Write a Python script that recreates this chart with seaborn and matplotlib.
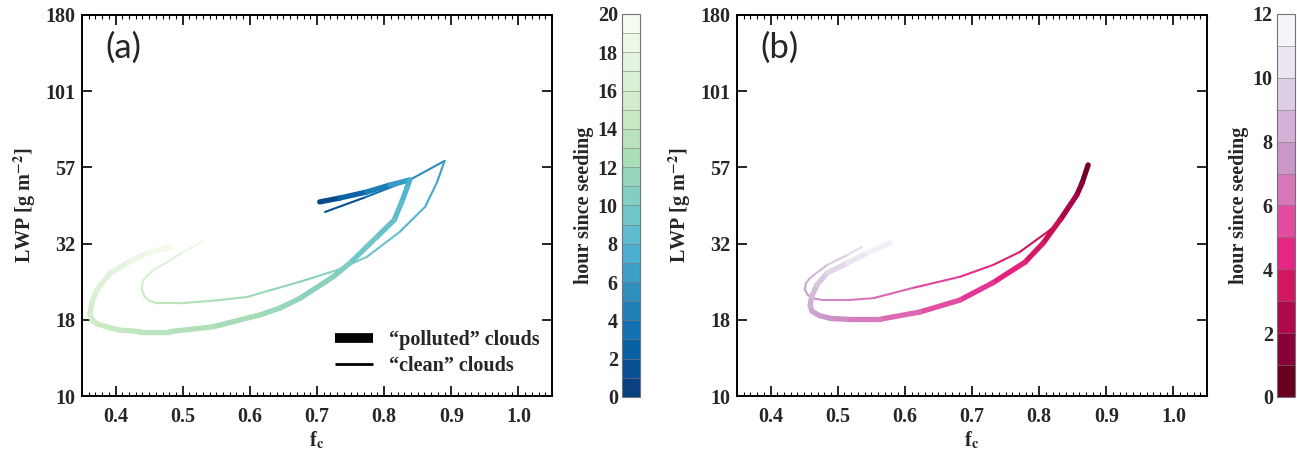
import numpy as np
import pandas as pd
import seaborn as sns
import matplotlib
matplotlib.use("Agg")
import matplotlib.pyplot as plt
from matplotlib.collections import LineCollection
from matplotlib.colors import Normalize, BoundaryNorm
from matplotlib.cm import ScalarMappable
from matplotlib.lines import Line2D
from matplotlib.ticker import FixedLocator, MultipleLocator, NullLocator

# ==========================================
# DATA
# ==========================================
# panel (a): "polluted" (thick) trajectory
A_POL_FC = [0.704, 0.734, 0.774, 0.809, 0.838, 0.834, 0.826, 0.815, 0.789, 0.749, 0.724,
            0.675, 0.645, 0.615, 0.545, 0.481, 0.436, 0.405, 0.387, 0.372, 0.365,
            0.362, 0.365, 0.372, 0.392, 0.417, 0.447, 0.481]
A_POL_LWP = [43.6, 44.9, 47.0, 49.6, 51.5, 48.5, 43.5, 38.0, 33.4, 27.4, 24.7,
             21.0, 19.5, 18.5, 16.9, 16.3, 16.3, 16.5, 16.9, 17.3, 17.8,
             18.7, 20.5, 22.3, 25.4, 27.4, 29.6, 31.0]
A_POL_HOUR = [0, 1.5, 3, 5, 7, 7.5, 8.0, 8.6, 9.2, 10, 10.5,
              11.2, 11.6, 12, 12.7, 13.4, 14, 14.5, 14.8, 15.1, 15.3,
              15.6, 16.1, 16.5, 17.3, 18, 19, 20]

# panel (a): "clean" (thin) trajectory
A_CLN_FC = [0.712, 0.770, 0.838, 0.890, 0.879, 0.861, 0.823, 0.774, 0.730, 0.675,
            0.630, 0.596, 0.545, 0.496, 0.462, 0.450, 0.443, 0.439, 0.441, 0.456,
            0.477, 0.500, 0.529]
A_CLN_LWP = [40.4, 45.0, 51.5, 59.5, 50.7, 42.0, 34.7, 28.7, 26.0, 23.8,
             22.3, 21.2, 20.6, 20.2, 20.2, 20.6, 21.3, 22.5, 24.1, 26.0,
             27.6, 29.8, 32.2]
A_CLN_HOUR = [0, 2, 4, 6, 6.5, 7.2, 8.2, 9.5, 10.3, 11,
              11.6, 12, 12.8, 13.6, 14.3, 14.7, 15.0, 15.4, 15.8, 16.5,
              17.3, 18.3, 19.5]

# panel (b): "polluted" (thick) trajectory
B_POL_FC = [0.873, 0.864, 0.856, 0.831, 0.806, 0.779, 0.731, 0.682, 0.622, 0.563,
            0.514, 0.490, 0.473, 0.462, 0.459, 0.461, 0.469, 0.484, 0.514, 0.544,
            0.578]
B_POL_LWP = [57.7, 50.3, 45.9, 38.0, 31.9, 27.6, 23.6, 20.7, 18.9, 17.9,
             17.9, 18.0, 18.4, 19.0, 19.9, 21.2, 23.2, 25.4, 27.4, 29.6,
             31.9]
B_POL_HOUR = [0, 0.8, 1.5, 2.5, 3.2, 3.8, 4.5, 5.1, 5.8, 6.4,
              7, 7.4, 7.8, 8.1, 8.4, 8.8, 9.2, 9.8, 10.5, 11.2,
              12]

# panel (b): "clean" (thin) trajectory
B_CLN_FC = [0.873, 0.858, 0.834, 0.816, 0.771, 0.731, 0.682, 0.612, 0.553, 0.514,
            0.478, 0.462, 0.455, 0.451, 0.453, 0.459, 0.484, 0.514, 0.536]
B_CLN_LWP = [57.5, 45.9, 38.0, 35.2, 29.8, 27.0, 24.7, 22.7, 21.0, 20.7,
             20.7, 21.0, 21.6, 22.5, 23.6, 24.5, 27.0, 29.1, 31.0]
B_CLN_HOUR = [0, 1.2, 2.2, 2.8, 3.6, 4.2, 4.8, 5.6, 6.3, 6.8,
              7.3, 7.6, 7.9, 8.1, 8.3, 8.6, 9.3, 10, 10.6]

LWP_TICKS = [10, 17.83, 31.79, 56.67, 101.0, 180]
LWP_TICKLABELS = ["10", "18", "32", "57", "101", "180"]
FC_TICKS = [0.4, 0.5, 0.6, 0.7, 0.8, 0.9, 1.0]
HOUR_MAX = [20, 12]
PANEL_LABELS = ["(a)", "(b)"]
LEGEND_LABELS = ["\u201cpolluted\u201d clouds", "\u201cclean\u201d clouds"]
# ==========================================

FS = 14.5


def colored_line(ax, x, y, t, cmap, norm, lw):
    pts = np.column_stack([x, y]).reshape(-1, 1, 2)
    segs = np.concatenate([pts[:-1], pts[1:]], axis=1)
    t = np.asarray(t, dtype=float)
    lc = LineCollection(segs, cmap=cmap, norm=norm, linewidths=lw,
                        capstyle="round", joinstyle="round")
    lc.set_array((t[:-1] + t[1:]) / 2)
    ax.add_collection(lc)


def style_axes(ax):
    ax.set_xlim(0.35, 1.05)
    ax.set_yscale("log")
    ax.set_ylim(10, 180)
    ax.yaxis.set_major_locator(FixedLocator(LWP_TICKS))
    ax.yaxis.set_minor_locator(NullLocator())
    ax.set_yticklabels(LWP_TICKLABELS)
    ax.set_xticks(FC_TICKS)
    ax.set_xticklabels([f"{v:.1f}" for v in FC_TICKS])
    ax.xaxis.set_minor_locator(MultipleLocator(0.01))
    ax.tick_params(which="both", direction="in", top=True, right=True,
                   color="black", labelsize=FS)
    ax.tick_params(which="major", length=7, width=1.2)
    ax.tick_params(which="minor", length=3, width=0.8)
    ax.tick_params(axis="x", which="major", pad=8)
    ax.tick_params(axis="y", which="major", pad=5)
    for sp in ax.spines.values():
        sp.set_linewidth(1.4)
        sp.set_color("black")
    for lab in ax.get_xticklabels() + ax.get_yticklabels():
        lab.set_fontweight("bold")
    ax.set_ylabel(r"LWP [g m$^{\mathbf{-2}}$]", fontsize=FS, fontweight="bold", labelpad=5)
    ax.set_xlabel(r"f$_{\mathbf{c}}$", fontsize=FS, fontweight="bold", labelpad=2)


def add_colorbar(fig, rect, cmap, hmax):
    cax = fig.add_axes(rect)
    bnorm = BoundaryNorm(np.arange(0, hmax + 1, 1), cmap.N)
    cb = fig.colorbar(ScalarMappable(norm=bnorm, cmap=cmap), cax=cax,
                      drawedges=True, ticks=np.arange(0, hmax + 1, 2))
    cb.dividers.set_color("0.5")
    cb.dividers.set_linewidth(0.4)
    cb.outline.set_edgecolor("0.45")
    cb.outline.set_linewidth(0.8)
    cax.minorticks_off()
    cax.yaxis.set_ticks_position("left")
    cax.yaxis.set_label_position("left")
    cax.tick_params(which="both", length=0, labelsize=FS, pad=3)
    for lab in cax.get_yticklabels():
        lab.set_fontweight("bold")
    cb.set_label("hour since seeding", fontsize=FS, fontweight="bold", labelpad=3)


def generate_plot():
    sns.set_theme(style="ticks")
    plt.rcParams["font.family"] = ["Liberation Serif", "DejaVu Serif"]
    plt.rcParams["mathtext.fontset"] = "stix"

    fig = plt.figure(figsize=(12.97, 4.5), dpi=100)
    ax_a = fig.add_axes([0.0632, 0.12, 0.3624, 0.8467])
    ax_b = fig.add_axes([0.5682, 0.12, 0.3624, 0.8467])

    cmaps = [sns.color_palette("GnBu_r", as_cmap=True),
             sns.color_palette("PuRd_r", as_cmap=True)]

    data = [
        (A_POL_FC, A_POL_LWP, A_POL_HOUR, A_CLN_FC, A_CLN_LWP, A_CLN_HOUR),
        (B_POL_FC, B_POL_LWP, B_POL_HOUR, B_CLN_FC, B_CLN_LWP, B_CLN_HOUR),
    ]

    for i, ax in enumerate([ax_a, ax_b]):
        pfc, plwp, phr, cfc, clwp, chr_ = data[i]
        norm = Normalize(0, HOUR_MAX[i])
        colored_line(ax, cfc, clwp, chr_, cmaps[i], norm, 1.5)
        colored_line(ax, pfc, plwp, phr, cmaps[i], norm, 3.8)
        style_axes(ax)
        ax.text(0.05, 0.915, PANEL_LABELS[i], transform=ax.transAxes,
                fontsize=25, family=["Lato", "DejaVu Sans"], fontweight="normal",
                ha="left", va="center")

    handles = [Line2D([], [], color="black", lw=7, solid_capstyle="butt"),
               Line2D([], [], color="black", lw=2, solid_capstyle="butt")]
    ax_a.legend(handles, LEGEND_LABELS, loc="lower right", frameon=False,
                prop={"family": "Liberation Serif", "weight": "bold", "size": FS},
                handlelength=1.9, handletextpad=0.8, labelspacing=0.3,
                borderaxespad=0.2, bbox_to_anchor=(1.0, 0.02))

    add_colorbar(fig, [0.4796, 0.118, 0.0139, 0.851], cmaps[0], HOUR_MAX[0])
    add_colorbar(fig, [0.9846, 0.118, 0.0139, 0.851], cmaps[1], HOUR_MAX[1])

    fig.savefig("out.png", dpi=100)


if __name__ == "__main__":
    generate_plot()
